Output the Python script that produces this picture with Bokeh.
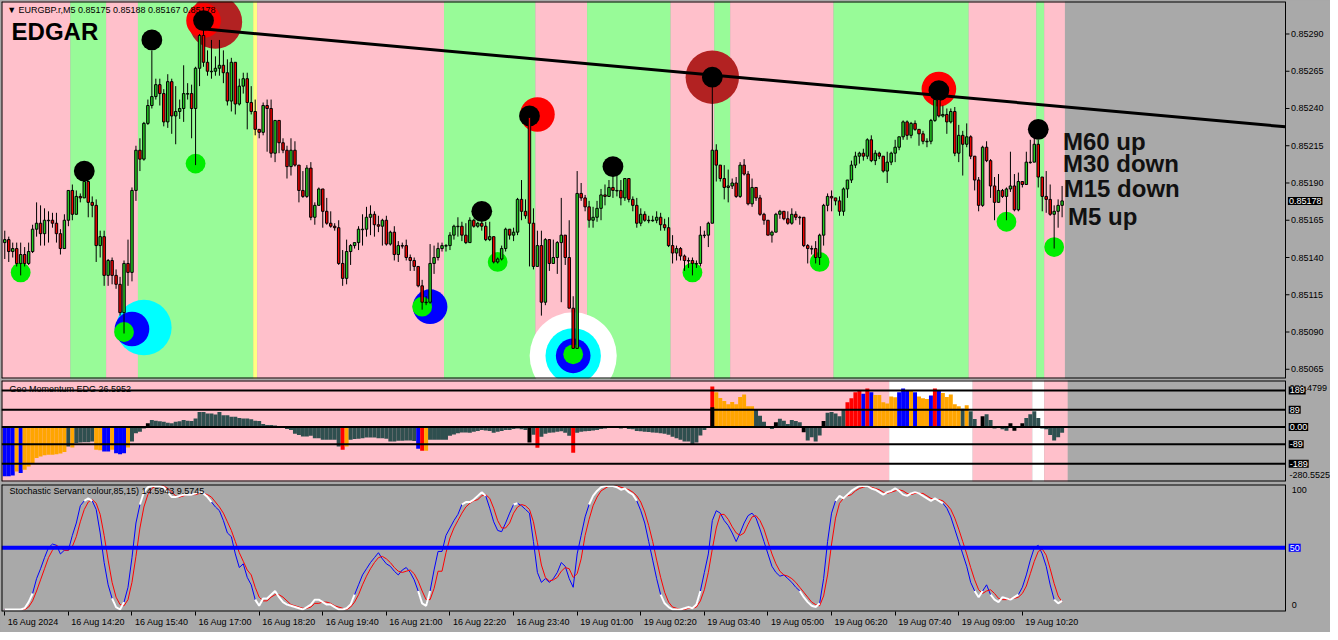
from bokeh.plotting import figure
from bokeh.layouts import column
from bokeh.models import Range1d, LinearAxis, FixedTicker, Label
from bokeh.core.properties import value
from bokeh.embed import file_html
from bokeh.resources import INLINE

# ---------------- colours ----------------
PINK = "#FFC0CB"; LGREEN = "#98FB98"; GRAY = "#A9A9A9"; YEL = "#FFFF80"; WHITE = "#FFFFFF"
BULL = "#22CC22"; BEAR = "#EE0000"
FONT = "Liberation Sans"

# ---------------- data ----------------
title_text = "\u25BC EURGBP.r,M5  0.85175 0.85188 0.85167 0.85178"
time_ticks = [0, 16, 32, 48, 64, 80, 96, 112, 128, 144, 160, 176, 192, 208, 224, 240, 256]
time_labels = ["16 Aug 2024", "16 Aug 14:20", "16 Aug 15:40", "16 Aug 17:00", "16 Aug 18:20",
               "16 Aug 19:40", "16 Aug 21:00", "16 Aug 22:20", "16 Aug 23:40", "19 Aug 01:00",
               "19 Aug 02:20", "19 Aug 03:40", "19 Aug 05:00", "19 Aug 06:20", "19 Aug 07:40",
               "19 Aug 09:00", "19 Aug 10:20"]
price_ticks = [0.85065, 0.85090, 0.85115, 0.85140, 0.85165, 0.85190, 0.85215, 0.85240, 0.85265, 0.85290]

# prices as points above 0.85000 (0.85178 -> 178)
first_open_pts = 150
monday_bar, monday_open_pts = 132, 234
close_pts = [
    152, 144, 146, 136, 142, 136, 144, 159, 163, 156,
    165, 165, 163, 156, 146, 165, 185, 169, 181, 180,
    191, 177, 175, 148, 154, 128, 138, 128, 122, 103,
    136, 130, 185, 212, 206, 230, 242, 248, 256, 250,
    231, 258, 235, 238, 240, 250, 250, 240, 267, 289,
    271, 265, 265, 267, 269, 264, 245, 271, 243, 255,
    260, 244, 238, 226, 224, 242, 240, 210, 232, 217,
    212, 201, 212, 202, 185, 181, 200, 167, 175, 186,
    171, 163, 161, 160, 136, 126, 144, 148, 150, 159,
    159, 167, 169, 162, 161, 165, 149, 157, 142, 148,
    148, 140, 138, 134, 121, 110, 110, 136, 140, 146,
    148, 148, 155, 161, 161, 155, 150, 165, 161, 163,
    161, 152, 154, 137, 139, 146, 159, 155, 157, 179,
    171, 168, 163, 134, 148, 110, 152, 136, 140, 150,
    155, 140, 106, 79, 183, 180, 174, 165, 167, 173,
    182, 181, 187, 185, 185, 180, 193, 179, 175, 163,
    169, 165, 165, 165, 167, 162, 160, 148, 143, 146,
    141, 138, 138, 136, 136, 155, 155, 163, 212, 202,
    193, 187, 188, 190, 181, 202, 196, 176, 187, 180,
    169, 165, 155, 157, 169, 171, 166, 163, 169, 167,
    167, 148, 146, 146, 140, 155, 175, 181, 180, 178,
    171, 186, 192, 202, 208, 210, 208, 219, 205, 210,
    208, 198, 204, 210, 214, 221, 231, 222, 230, 226,
    223, 218, 218, 232, 246, 235, 236, 231, 238, 210,
    222, 216, 221, 208, 192, 175, 214, 205, 188, 177,
    185, 181, 186, 188, 172, 191, 189, 204, 204, 216,
    194, 181, 179, 169, 171, 175, 178]
high_pts = [
    158, 154, 150, 150, 150, 147, 150, 162, 177, 175,
    173, 171, 170, 170, 159, 169, 185, 189, 185, 183,
    192, 190, 181, 179, 158, 158, 139, 140, 132, 127,
    138, 152, 187, 215, 220, 231, 246, 279, 260, 260,
    253, 263, 260, 255, 246, 269, 257, 256, 268, 290,
    296, 279, 286, 275, 286, 279, 273, 274, 270, 260,
    264, 264, 255, 246, 226, 244, 246, 246, 232, 232,
    220, 215, 220, 218, 202, 198, 202, 204, 177, 187,
    186, 180, 171, 163, 165, 145, 152, 149, 150, 161,
    169, 174, 175, 171, 168, 166, 168, 158, 161, 151,
    150, 152, 142, 140, 134, 125, 114, 149, 148, 150,
    150, 149, 157, 162, 167, 164, 163, 167, 166, 164,
    165, 164, 164, 153, 140, 148, 160, 159, 160, 180,
    192, 179, 238, 173, 158, 158, 153, 152, 152, 151,
    180, 155, 165, 114, 198, 190, 182, 178, 174, 178,
    186, 189, 192, 201, 195, 192, 193, 193, 181, 180,
    173, 171, 168, 168, 171, 170, 166, 167, 155, 148,
    147, 142, 140, 140, 138, 161, 158, 164, 260, 216,
    202, 202, 199, 193, 194, 204, 206, 198, 193, 187,
    182, 170, 165, 158, 170, 172, 171, 171, 173, 171,
    168, 167, 149, 148, 151, 156, 176, 183, 185, 180,
    181, 187, 192, 205, 211, 211, 213, 220, 222, 212,
    211, 208, 211, 211, 219, 221, 232, 232, 231, 232,
    226, 225, 220, 233, 247, 253, 242, 240, 240, 241,
    229, 225, 230, 222, 208, 194, 215, 218, 206, 194,
    196, 186, 187, 211, 196, 197, 191, 211, 219, 221,
    219, 194, 198, 189, 175, 179, 188]
low_pts = [
    139, 137, 140, 134, 128, 134, 135, 143, 154, 148,
    148, 150, 160, 150, 142, 146, 161, 165, 169, 177,
    180, 167, 167, 137, 140, 121, 121, 122, 119, 101,
    89, 121, 124, 178, 198, 205, 229, 240, 246, 242,
    228, 227, 223, 216, 233, 231, 246, 220, 202, 255,
    268, 262, 260, 262, 262, 257, 242, 238, 236, 242,
    250, 226, 236, 222, 220, 222, 211, 207, 204, 210,
    210, 193, 195, 201, 177, 180, 180, 165, 162, 175,
    160, 162, 160, 158, 135, 121, 122, 135, 146, 145,
    148, 154, 155, 154, 157, 148, 148, 148, 138, 137,
    146, 138, 131, 131, 120, 105, 108, 109, 129, 138,
    144, 144, 145, 152, 154, 151, 149, 150, 160, 160,
    158, 151, 151, 136, 136, 138, 144, 152, 151, 155,
    165, 166, 134, 132, 138, 101, 108, 131, 136, 129,
    110, 135, 106, 79, 79, 178, 171, 160, 160, 164,
    165, 175, 181, 180, 181, 175, 178, 177, 171, 160,
    161, 164, 163, 164, 163, 158, 158, 147, 136, 138,
    138, 131, 133, 128, 133, 134, 153, 147, 163, 191,
    191, 179, 177, 186, 180, 180, 195, 175, 174, 178,
    168, 162, 155, 150, 157, 166, 165, 162, 162, 165,
    162, 147, 136, 142, 136, 135, 148, 171, 171, 175,
    168, 168, 180, 190, 200, 203, 205, 206, 204, 202,
    206, 197, 190, 202, 204, 212, 219, 219, 220, 225,
    215, 216, 214, 216, 231, 234, 234, 223, 230, 208,
    204, 195, 214, 206, 185, 171, 174, 204, 180, 165,
    177, 180, 165, 184, 171, 171, 187, 189, 203, 204,
    187, 171, 170, 168, 146, 160, 167]

# background regimes of the main window (bar edges) and colours
band_edges = [-0.825, 16.5, 25.5, 33.5, 62.5, 63.5, 110.5, 133.5, 146.5, 167.5, 178.5,
              182.5, 208.5, 242.5, 259.5, 261.5, 266.7]
band_colors = [PINK, LGREEN, PINK, LGREEN, YEL, PINK, LGREEN, PINK, LGREEN, PINK, LGREEN,
               PINK, LGREEN, PINK, LGREEN, PINK]
mom_band_edges = [-0.825, 222.5, 243.5, 258.5, 261.5, 267.4]
mom_band_colors = [PINK, WHITE, PINK, WHITE, PINK]

# trend line (bar, pts)
trend_bars = [50.4, 322.2]
trend_pts = [293.3, 227.7]

# signal circles (bar, pts)
black_bars = [20, 37, 50, 120, 132, 153, 178, 235, 260]
black_pts = [198, 286, 299, 171, 235, 201, 261, 252, 226]
green_bars = [4, 30, 48, 105, 124, 143, 173, 205, 252, 264]
green_pts = [130, 90, 203, 107, 137, 75, 130, 137, 164, 147]
red_bars = [50, 134, 235]
red_pts = [299, 236, 253]
brown_bars = [53, 178]
brown_pts = [298, 261]
blue_bars = [32, 107, 143]
blue_pts = [92, 107, 74]
cyan_bars = [35, 143]
cyan_pts = [93, 74]
white_bars = [143]
white_pts = [74]

# Geo Momentum histogram
mom_vals = [
    -254, -254, -250, -230, -237, -220, -203, -186, -160, -152,
    -146, -143, -143, -140, -136, -129, -100, -106, -83, -80,
    -78, -78, -75, -117, -120, -126, -126, -117, -135, -140,
    -135, -106, -75, -32, -24, -7, 19, 36, 32, 30,
    27, 22, 19, 27, 30, 36, 33, 31, 44, 78,
    78, 70, 70, 65, 78, 61, 61, 53, 53, 46,
    44, 44, 40, 33, 31, 15, 10, 10, 8, 3,
    -5, -10, -15, -35, -41, -49, -49, -45, -58, -58,
    -66, -66, -66, -66, -100, -117, -100, -66, -62, -60,
    -58, -54, -54, -54, -58, -58, -60, -75, -75, -71,
    -71, -70, -70, -72, -112, -122, -122, -66, -66, -66,
    -66, -66, -45, -38, -32, -28, -28, -30, -25, -20,
    -15, -18, -20, -30, -25, -20, -15, -15, -10, -8,
    -12, -15, -80, -40, -107, -50, -35, -30, -28, -25,
    -22, -30, -45, -133, -30, -25, -22, -20, -18, -15,
    -10, -8, -5, -3, -5, -8, -5, -10, -12, -20,
    -22, -24, -26, -28, -30, -32, -35, -40, -50, -58,
    -66, -75, -75, -92, -80, -44, -15, -3, 209, 180,
    150, 134, 117, 129, 117, 155, 168, 107, 107, 90,
    58, 27, 5, -10, 25, 43, 32, 15, 36, 31,
    25, -27, -70, -53, -75, -44, 31, 73, 77, 70,
    56, 90, 128, 148, 179, 187, 172, 199, 179, 165,
    165, 128, 122, 158, 153, 179, 199, 187, 187, 179,
    158, 148, 145, 163, 199, 187, 175, 155, 168, 117,
    107, 94, 112, 82, 41, 2, 56, 66, 36, -7,
    -3, -12, -19, 19, -19, -3, 19, 46, 66, 82,
    46, -7, -12, -41, -70, -53, -29]
# colour runs: g slate, o orange, b blue, r red, k black
mom_color_runs = [("b", 3), ("o", 1), ("b", 1), ("o", 11), ("g", 1), ("o", 1), ("g", 5), ("o", 2),
                  ("b", 2), ("o", 1), ("b", 3), ("o", 1), ("g", 4), ("k", 1), ("g", 48), ("r", 1),
                  ("o", 1), ("g", 17), ("b", 1), ("r", 1), ("o", 1), ("g", 25), ("k", 1), ("g", 1),
                  ("r", 1), ("g", 8), ("r", 1), ("g", 34), ("r", 1), ("o", 10), ("g", 5), ("k", 1),
                  ("g", 6), ("k", 1), ("g", 4), ("k", 1), ("g", 5), ("r", 4), ("b", 1), ("r", 1),
                  ("b", 1), ("o", 6), ("b", 3), ("o", 1), ("b", 1), ("o", 3), ("b", 1), ("r", 1),
                  ("b", 1), ("o", 5), ("g", 1), ("o", 1), ("g", 3), ("k", 1), ("g", 6), ("k", 2),
                  ("g", 1), ("k", 1), ("g", 10)]
mom_black_bars = [178]
mom_black_vals = [102]
mom_levels = [189, 89, 0, -89, -189]
mom_level_labels = ["189", "89", "0.00", "-89", "-189"]
mom_max_label, mom_min_label = "281.4799", "-280.5525"

# Stochastic
stoch_k = [
    0, 0, 0, 0, 0, 1, 6, 13, 25, 33,
    42, 50, 53, 52, 45, 48, 48, 60, 70, 84,
    88, 90, 88, 81, 62, 38, 20, 9, 2, 0,
    6, 18, 42, 70, 85, 95, 99, 100, 100, 100,
    99, 95, 91, 91, 92, 93, 93, 93, 94, 95,
    94, 91, 87, 83, 80, 72, 62, 59, 45, 34,
    37, 26, 20, 8, 3, 9, 9, 12, 15, 10,
    6, 4, 3, 2, 1, 0, 2, 4, 8, 8,
    6, 4, 4, 2, 0, 0, 1, 4, 12, 20,
    28, 33, 38, 42, 46, 41, 37, 35, 31, 28,
    32, 34, 30, 24, 15, 5, 3, 15, 32, 47,
    47, 60, 66, 72, 77, 85, 87, 87, 89, 92,
    95, 92, 82, 71, 64, 63, 70, 78, 85, 86,
    84, 81, 78, 55, 30, 22, 25, 22, 25, 30,
    38, 35, 25, 18, 45, 60, 75, 85, 92, 96,
    99, 100, 100, 100, 99, 97, 98, 95, 93, 88,
    80, 70, 55, 40, 25, 12, 5, 2, 0, 0,
    0, 1, 2, 1, 4, 15, 30, 45, 72, 80,
    78, 72, 68, 62, 55, 62, 70, 76, 78, 74,
    65, 55, 45, 35, 30, 27, 28, 25, 22, 18,
    15, 10, 6, 3, 2, 5, 25, 55, 78, 88,
    92, 90, 93, 96, 98, 100, 100, 100, 98, 97,
    95, 93, 95, 96, 98, 96, 93, 92, 94, 95,
    94, 92, 90, 88, 90, 88, 86, 82, 75, 65,
    55, 45, 35, 22, 15, 10, 15, 20, 12, 8,
    6, 10, 9, 8, 10, 12, 18, 28, 40, 50,
    52, 45, 35, 20, 8, 5, 7]
stoch_d = [
    0, 0, 0, 0, 0, 0, 2, 7, 15, 24,
    33, 42, 48, 52, 50, 48, 48, 51, 59, 71,
    81, 87, 89, 86, 77, 60, 40, 22, 10, 4,
    3, 8, 22, 43, 66, 83, 93, 98, 100, 100,
    100, 98, 95, 92, 91, 92, 93, 93, 93, 94,
    94, 93, 91, 87, 83, 78, 71, 64, 55, 46,
    39, 32, 28, 18, 10, 7, 7, 10, 12, 12,
    10, 7, 4, 3, 2, 1, 1, 2, 5, 5,
    6, 6, 5, 3, 2, 1, 0, 2, 6, 12,
    20, 27, 33, 38, 42, 43, 41, 38, 34, 31,
    30, 31, 32, 29, 23, 15, 8, 8, 17, 31,
    31, 46, 58, 66, 72, 78, 83, 86, 88, 89,
    92, 93, 90, 82, 72, 66, 66, 70, 78, 83,
    85, 84, 81, 71, 54, 36, 26, 23, 24, 26,
    31, 34, 33, 26, 29, 41, 60, 73, 84, 91,
    96, 98, 100, 100, 100, 99, 98, 97, 95, 92,
    87, 79, 68, 55, 40, 26, 14, 6, 2, 1,
    0, 0, 1, 1, 2, 7, 16, 30, 49, 66,
    77, 77, 73, 67, 62, 60, 62, 69, 75, 76,
    72, 65, 55, 45, 37, 31, 28, 27, 25, 22,
    18, 14, 10, 6, 4, 3, 11, 28, 53, 74,
    86, 90, 92, 93, 96, 98, 99, 100, 99, 98,
    97, 95, 94, 95, 96, 97, 96, 94, 93, 94,
    94, 94, 92, 90, 89, 89, 88, 85, 81, 74,
    65, 55, 45, 34, 24, 16, 13, 15, 16, 13,
    9, 8, 8, 9, 9, 10, 13, 19, 29, 39,
    47, 49, 44, 33, 21, 11, 6]
stoch_hi, stoch_lo = 85, 15
stoch_title = "Stochastic Servant colour,85,15) 14.5943 9.5745"
mom_title = "Geo Momentum EDG   26.5952"

# ---------------- derived ----------------
n = len(close_pts)
assert len(high_pts) == n and len(low_pts) == n and len(mom_vals) == n
assert len(stoch_k) == n and len(stoch_d) == n
P = lambda v: 0.85 + v / 1e5
idx = list(range(n))
open_pts = [first_open_pts] + close_pts[:-1]
open_pts[monday_bar] = monday_open_pts
o = [P(v) for v in open_pts]
c = [P(v) for v in close_pts]
h = [max(P(a), oo, cc) for a, oo, cc in zip(high_pts, o, c)]
l = [min(P(a), oo, cc) for a, oo, cc in zip(low_pts, o, c)]
min_body = 0.0000035
body_top = [max(a, b) for a, b in zip(o, c)]
body_bot = [min(a, b) if abs(a - b) > min_body else max(a, b) - min_body for a, b in zip(o, c)]
body_col = [BULL if cc >= oo else BEAR for oo, cc in zip(o, c)]

mom_code = "".join(ch * k for ch, k in mom_color_runs)
assert len(mom_code) == n
cmap = {"g": "#2F4F4F", "o": "#FFA500", "b": "#0000FF", "r": "#FF0000", "k": "#000000"}
mom_cols = [cmap[ch] for ch in mom_code]
k_white = [v if (v >= stoch_hi or v <= stoch_lo) else float("nan") for v in stoch_k]

# ---------------- layout geometry ----------------
FW = 1329                      # frame covers chart + price-scale strip
XL = -0.825                    # left edge (bars)
XD = 322.2                     # right edge of the chart area (bars)
PPB = 1284.0 / (XD - XL)       # pixels per bar
XR = XL + FW / PPB
xr = Range1d(XL, XR)
TXT = "9px"


def make(hgt, y0, y1, top, bottom):
    f = figure(frame_width=FW, frame_height=hgt, x_range=xr, y_range=Range1d(y0, y1),
               x_axis_location=None, y_axis_location=None, toolbar_location=None,
               output_backend="svg", min_border_left=1, min_border_right=0,
               min_border_top=top, min_border_bottom=bottom,
               background_fill_color=GRAY, border_fill_color=GRAY, outline_line_color=None)
    f.grid.visible = False
    return f


def borders(f, y0, y1):
    f.segment(x0=[XL, XL, XL], y0=[y0, y1, y0], x1=[XD, XD, XL], y1=[y0, y1, y1],
              line_color="black", line_width=2)
    f.segment(x0=[XD], y0=[y0], x1=[XD], y1=[y1], line_color="black", line_width=1)


def lab(f, text, x, y, size=TXT, color="black", bold=False, bg=None, align="left"):
    kw = {}
    if bg is not None:
        kw = dict(background_fill_color=bg, background_fill_alpha=1.0, padding=1)
    f.add_layout(Label(x=x, y=y, text=text, text_font=FONT, text_font_size=size,
                       text_color=color, text_font_style="bold" if bold else "normal",
                       text_align=align, text_baseline="middle", **kw))


def scale_text(f, ys, texts, ticks=True, dx=1.4):
    if ticks:
        f.segment(x0=[XD] * len(ys), y0=ys, x1=[XD + 1.0] * len(ys), y1=ys,
                  line_color="black", line_width=1)
    f.text(x=[XD + dx] * len(ys), y=ys, text=texts, text_font=value(FONT),
           text_font_size=value(TXT), text_color="black", text_align="left",
           text_baseline="middle")


# ---- main price window ----
Y0, Y1 = P(58.8), P(311.8)
p1 = make(377, Y0, Y1, 1, 2)
p1.quad(left=band_edges[:-1], right=band_edges[1:], bottom=Y0 - 0.001, top=Y1 + 0.001,
        fill_color=band_colors, line_color=None)
sz = 0.99
p1.scatter(brown_bars, [P(v) for v in brown_pts], size=54 * sz, color="#B22222", line_color=None)
p1.scatter(white_bars, [P(v) for v in white_pts], size=88 * sz, color="white", line_color=None)
p1.scatter(cyan_bars, [P(v) for v in cyan_pts], size=56 * sz, color="#00FFFF", line_color=None)
p1.scatter(red_bars, [P(v) for v in red_pts], size=35 * sz, color="#FF0000", line_color=None)
p1.scatter(blue_bars, [P(v) for v in blue_pts], size=35 * sz, color="#0000FF", line_color=None)
p1.scatter(green_bars, [P(v) for v in green_pts], size=20 * sz, color="#00EE00", line_color=None)
p1.scatter(black_bars, [P(v) for v in black_pts], size=21 * sz, color="black", line_color=None)
p1.line(trend_bars, [P(v) for v in trend_pts], line_width=3, color="black")
p1.segment(x0=idx, y0=l, x1=idx, y1=h, line_color="black", line_width=1)
p1.vbar(x=idx, width=0.62, top=body_top, bottom=body_bot, fill_color=body_col,
        line_color="black", line_width=1)
borders(p1, Y0, Y1)
scale_text(p1, price_ticks, [f"{t:.5f}" for t in price_ticks])

lab(p1, title_text, 0.6, P(305.9))
lab(p1, "EDGAR", 1.7, P(292.0), size="24px", bold=True)
lab(p1, "M60 up", 266.2, P(217.8), size="24px", bold=True, color="#111111")
lab(p1, "M30 down", 266.2, P(203.2), size="24px", bold=True, color="#111111")
lab(p1, "M15 down", 266.4, P(186.0), size="24px", bold=True, color="#111111")
lab(p1, "M5 up", 267.5, P(167.5), size="24px", bold=True, color="#111111")
lab(p1, f"{P(close_pts[-1]):.5f}", XD + 0.6, P(close_pts[-1]), color="white", bg="black")

# ---- momentum window ----
M0, M1 = -281, 240
p2 = make(101, M0, M1, 0, 3)
p2.quad(left=mom_band_edges[:-1], right=mom_band_edges[1:], bottom=M0 - 10, top=M1 + 10,
        fill_color=mom_band_colors, line_color=None)
p2.vbar(x=idx, width=1.0, top=mom_vals, bottom=0, fill_color=mom_cols, line_color=None)
p2.vbar(x=mom_black_bars, width=1.0, top=mom_black_vals, bottom=0, fill_color="black", line_color=None)
p2.segment(x0=[XL] * len(mom_levels), y0=mom_levels, x1=[XD] * len(mom_levels), y1=mom_levels,
           line_color="black", line_width=2)
borders(p2, M0, M1)
lab(p2, mom_title, 1.2, 194)
lab(p2, mom_max_label, XD + 1.0, 200)
lab(p2, mom_min_label, XD + 1.0, -250)
for lv, tx in zip(mom_levels, mom_level_labels):
    lab(p2, tx, XD + 0.8, lv, color="white", bg="black")

# ---- stochastic window ----
S0, S1 = -1.6, 101.2
p3 = make(127, S0, S1, 0, 21)
p3.line(idx, stoch_k, color="#0000FF", line_width=1)
p3.line(idx, stoch_d, color="#FF0000", line_width=1)
p3.line(idx, k_white, color="white", line_width=2)
p3.segment(x0=[XL], y0=[50], x1=[XD], y1=[50], line_color="#0000FF", line_width=4)
borders(p3, S0, S1)
scale_text(p3, [96.4, 4.0], ["100", "0"], ticks=False, dx=1.6)
lab(p3, "50", XD + 0.8, 50, color="white", bg="#0000FF")
lab(p3, stoch_title, 1.2, 95.6)

# time scale: tick marks at bar positions, left-aligned labels
axA = LinearAxis(ticker=FixedTicker(ticks=time_ticks, minor_ticks=[]),
                 major_tick_in=0, major_tick_out=4, minor_tick_in=0, minor_tick_out=0,
                 axis_line_color=None, major_tick_line_color="black",
                 major_label_text_alpha=0.0, major_label_text_font_size="1px",
                 major_label_standoff=0, major_label_overrides={t: " " for t in time_ticks})
char_w = {c: 5.0 for c in "0123456789"}
char_w.update({" ": 2.5, ":": 2.5, "A": 6.0, "u": 5.0, "g": 5.0})
shifted = []
for t, tx in zip(time_ticks, time_labels):
    w = sum(char_w.get(ch, 5.0) for ch in tx)
    shifted.append(round(t + (w / 2 + 3) / PPB, 3))
axB = LinearAxis(ticker=FixedTicker(ticks=shifted, minor_ticks=[]),
                 major_label_overrides={s: tx for s, tx in zip(shifted, time_labels)},
                 major_tick_in=0, major_tick_out=0, minor_tick_in=0, minor_tick_out=0,
                 axis_line_color=None, major_tick_line_color=None,
                 major_label_text_font=FONT, major_label_text_font_size=TXT,
                 major_label_text_color="black", major_label_standoff=1)
p3.add_layout(axA, "below")
p3.add_layout(axB, "below")

layout = column(p1, p2, p3, spacing=0, background=GRAY)
open("out.html", "w").write(file_html(layout, INLINE))
